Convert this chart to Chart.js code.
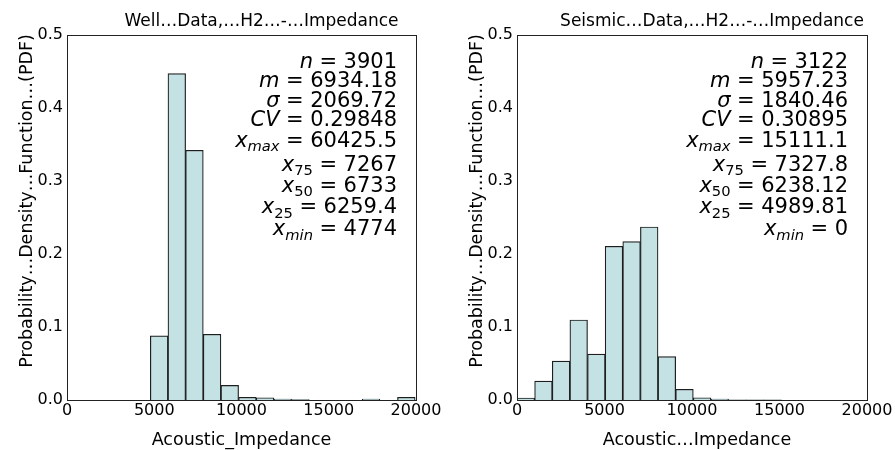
<!DOCTYPE html>
<html>
<head>
<meta charset="utf-8">
<script src="https://cdn.jsdelivr.net/npm/chart.js@4.4.0/dist/chart.umd.min.js"></script>
<style>
  html, body { margin: 0; padding: 0; background: #fff; }
  .panel { position: absolute; top: 0; height: 450px; }
  #wellBox { left: 0; width: 450px; }
  #seisBox { left: 450px; width: 445px; }
</style>
</head>
<body>
<div class="panel" id="wellBox"><canvas id="wellChart"></canvas></div>
<div class="panel" id="seisBox"><canvas id="seisChart"></canvas></div>
<script>
// histogram bins (relative frequency per bin)
const wellBinStart = 4774;
const wellBinWidth = 1011.8;
const wellDensity = [0.088, 0.447, 0.342, 0.090, 0.020, 0.0037, 0.003, 0.0012, 0.0006, 0, 0, 0, 0.0012, 0, 0.0037];

const seisBinStart = 0;
const seisBinWidth = 1007.4;
const seisDensity = [0.0027, 0.026, 0.0534, 0.1096, 0.063, 0.2105, 0.2169, 0.237, 0.0594, 0.0146, 0.003, 0.0012, 0.0004, 0.0003, 0.0003];

// axes
const xTicks = [0, 5000, 10000, 15000, 20000];
const yTicks = [0.0, 0.1, 0.2, 0.3, 0.4, 0.5];

// summary statistics
const statSymbols = ["n", "m", "σ", "CV", "x", "x", "x", "x", "x"];
const statSubs = ["", "", "", "", "max", "75", "50", "25", "min"];
const wellStats = ["3901", "6934.18", "2069.72", "0.29848", "60425.5", "7267", "6733", "6259.4", "4774"];
const seisStats = ["3122", "5957.23", "1840.46", "0.30895", "15111.1", "7327.8", "6238.12", "4989.81", "0"];

const wellTitle = "Well…Data,…H2…-…Impedance";
const seisTitle = "Seismic…Data,…H2…-…Impedance";
const wellXLabel = "Acoustic_Impedance";
const seisXLabel = "Acoustic…Impedance";
const yLabel = "Probability…Density…Function…(PDF)";

const textFont = "DejaVu Sans";

function binPoints(start, width, values) {
  return values.map((v, i) => ({ x: start + width * (i + 0.5), y: v }));
}

// draws frame, titles and the stats block
const decorPlugin = {
  id: "decor",
  afterDraw(chart, args, opts) {
    const ctx = chart.ctx;
    const a = chart.chartArea;
    ctx.save();

    // frame
    ctx.strokeStyle = "#222";
    ctx.lineWidth = 1;
    ctx.strokeRect(Math.round(a.left) + 0.5, Math.round(a.top) + 0.5,
      Math.round(a.right - a.left), Math.round(a.bottom - a.top));

    ctx.fillStyle = "#000";
    ctx.textBaseline = "alphabetic";

    // title
    ctx.font = "17px '" + textFont + "'";
    ctx.textAlign = "center";
    ctx.fillText(opts.title, (a.left + a.right) / 2 + opts.titleShift, 26);

    // x label
    ctx.font = "17.5px '" + textFont + "'";
    ctx.fillText(opts.xLabel, (a.left + a.right) / 2 + opts.xLabelShift, 445);

    // y label
    ctx.save();
    ctx.translate(31.5, 201);
    ctx.rotate(-Math.PI / 2);
    ctx.font = "17.5px '" + textFont + "'";
    ctx.fillText(yLabel, 0, 0);
    ctx.restore();

    // stats, right aligned
    const baselines = [33, 52, 71.5, 90.7, 111.7, 135.7, 156.7, 178.3, 200];
    const xr = a.right - 19;
    const gap = 6.5;
    for (let i = 0; i < statSymbols.length; i++) {
      const y = a.top + baselines[i];
      let x = xr;
      ctx.textAlign = "right";
      ctx.font = "21px '" + textFont + "'";
      ctx.fillText(opts.stats[i], x, y);
      x -= ctx.measureText(opts.stats[i]).width + gap;
      ctx.fillText("=", x, y);
      x -= ctx.measureText("=").width + gap;
      const sub = statSubs[i];
      if (sub) {
        const italicSub = isNaN(Number(sub));
        ctx.font = (italicSub ? "italic " : "") + "14.7px '" + textFont + "'";
        ctx.fillText(sub, x, y + 4.5);
        x -= ctx.measureText(sub).width;
      }
      ctx.font = "italic 21px '" + textFont + "'";
      ctx.fillText(statSymbols[i], x, y);
    }
    ctx.restore();
  }
};

function makeChart(id, points, stats, title, xLabel, rightPad, titleShift, xLabelShift) {
  return new Chart(document.getElementById(id), {
    type: "bar",
    data: {
      datasets: [{
        data: points,
        backgroundColor: "#c4e1e4",
        borderColor: "#1e1e1e",
        borderWidth: 1.2,
        borderSkipped: "start",
        barPercentage: 1,
        categoryPercentage: 1,
        grouped: false
      }]
    },
    options: {
      responsive: true,
      maintainAspectRatio: false,
      animation: false,
      layout: { padding: { top: 35, right: rightPad, bottom: 0, left: 0 } },
      plugins: {
        legend: { display: false },
        tooltip: { enabled: false },
        decor: { title: title, xLabel: xLabel, stats: stats, titleShift: titleShift, xLabelShift: xLabelShift }
      },
      scales: {
        x: {
          type: "linear",
          min: 0,
          max: 20000,
          offset: false,
          grid: { display: false, drawTicks: false },
          border: { display: false },
          afterBuildTicks: (s) => { s.ticks = xTicks.map(v => ({ value: v })); },
          afterFit: (s) => { s.height = 50; },
          ticks: {
            padding: 1,
            maxRotation: 0,
            autoSkip: false,
            color: "#000",
            font: { family: textFont, size: 16 },
            callback: (v) => String(v)
          }
        },
        y: {
          min: 0,
          max: 0.5,
          grid: { display: false, drawTicks: false },
          border: { display: false },
          afterBuildTicks: (s) => { s.ticks = yTicks.map(v => ({ value: v })); },
          afterFit: (s) => { s.width = 67; },
          ticks: {
            padding: 4,
            color: "#000",
            font: { family: textFont, size: 16 },
            callback: (v) => Number(v).toFixed(1)
          }
        }
      }
    },
    plugins: [decorPlugin]
  });
}

makeChart("wellChart", binPoints(wellBinStart, wellBinWidth, wellDensity), wellStats,
  wellTitle, wellXLabel, 34, 20, 0);
makeChart("seisChart", binPoints(seisBinStart, seisBinWidth, seisDensity), seisStats,
  seisTitle, seisXLabel, 28, 20, 5);
</script>
</body>
</html>
